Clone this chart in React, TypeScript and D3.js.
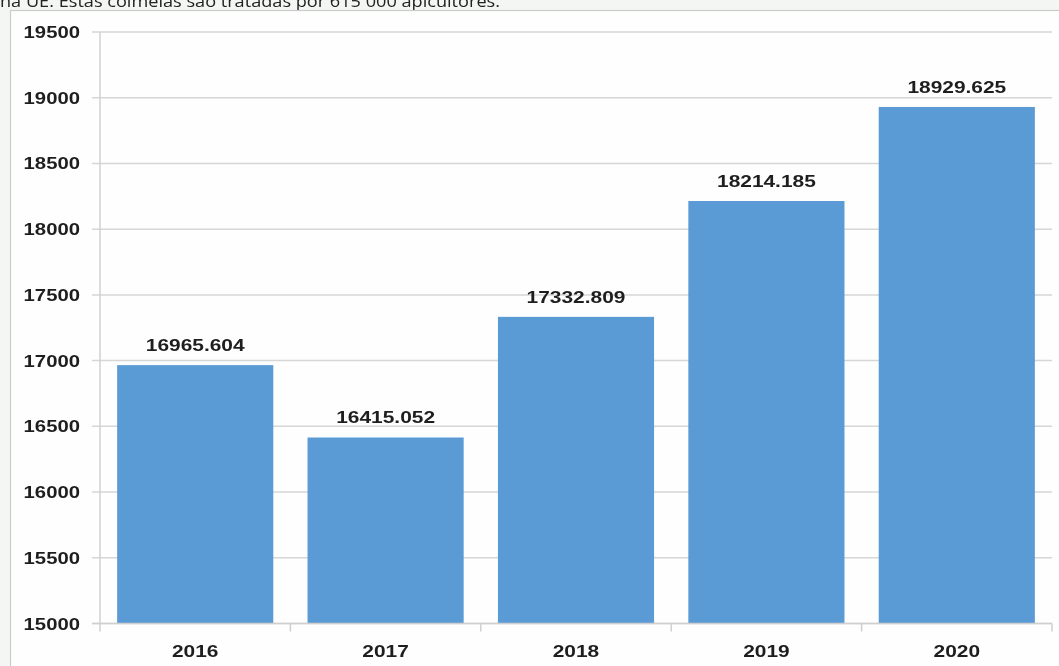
import React from "react";
import * as d3 from "d3";

const categories = ["2016", "2017", "2018", "2019", "2020"];
const values = [16965.604, 16415.052, 17332.809, 18214.185, 18929.625];
const yTicks = [15000, 15500, 16000, 16500, 17000, 17500, 18000, 18500, 19000, 19500];
const caption = "na UE. Estas colmeias são tratadas por 615 000 apicultores.";

const W = 1059;
const H = 666;
const STRETCH = 1.23;
const FONT = "'Liberation Sans', Arial, sans-serif";

export default function App() {
  const x = d3.scaleBand<string>().domain(categories).range([100, 1052]).paddingInner(0.18).paddingOuter(0.09);
  const y = d3.scaleLinear().domain([15000, 19500]).range([623.5, 32]);
  const step = x.step();
  const boundaries = d3.range(categories.length + 1).map((i) => 100 + i * step);

  const stretched = (tx: number, ty: number, anchor: string, text: string, key: string, size = 17) => (
    <text
      key={key}
      transform={`translate(${tx},${ty}) scale(${STRETCH},1)`}
      textAnchor={anchor}
      fontFamily={FONT}
      fontWeight="bold"
      fontSize={size}
      fill="#1e1e1e"
    >
      {text}
    </text>
  );

  return (
    <svg width={W} height={H} style={{ position: "fixed", left: 0, top: 0, display: "block" }}>
      <rect x={0} y={0} width={W} height={H} fill="#f3f6f3" />
      <text x={0} y={7} fontFamily="'Open Sans', 'Noto Sans', sans-serif" fontSize={17} fill="#222" textLength={500} lengthAdjust="spacingAndGlyphs">
        {caption}
      </text>
      <rect x={10.5} y={10.5} width={W} height={H} fill="#fdfefd" stroke="#c9ccc9" strokeWidth={1.2} />

      {yTicks.map((t) => (
        <g key={t}>
          <line x1={92} x2={1052} y1={y(t)} y2={y(t)} stroke="#d6d6d6" strokeWidth={1.5} />
          {stretched(80, y(t) + 6, "end", String(t), "l" + t, 16.5)}
        </g>
      ))}
      <line x1={100} x2={100} y1={y(19500)} y2={y(15000)} stroke="#d0d0d0" strokeWidth={1.5} />

      {categories.map((c, i) => (
        <rect
          key={c}
          x={x(c)}
          y={y(values[i])}
          width={x.bandwidth()}
          height={y(15000) - y(values[i])}
          fill="#5b9bd5"
        />
      ))}

      <line x1={92} x2={1052} y1={y(15000)} y2={y(15000)} stroke="#cfcfcf" strokeWidth={1.5} />
      {boundaries.map((b, i) => (
        <line key={"t" + i} x1={b} x2={b} y1={y(15000)} y2={y(15000) + 8} stroke="#cfcfcf" strokeWidth={1.5} />
      ))}

      {categories.map((c, i) => stretched((x(c) as number) + x.bandwidth() / 2, y(values[i]) - 14, "middle", values[i].toFixed(3), "v" + c))}
      {categories.map((c) => stretched((x(c) as number) + x.bandwidth() / 2, 657, "middle", c, "c" + c, 17))}
    </svg>
  );
}
